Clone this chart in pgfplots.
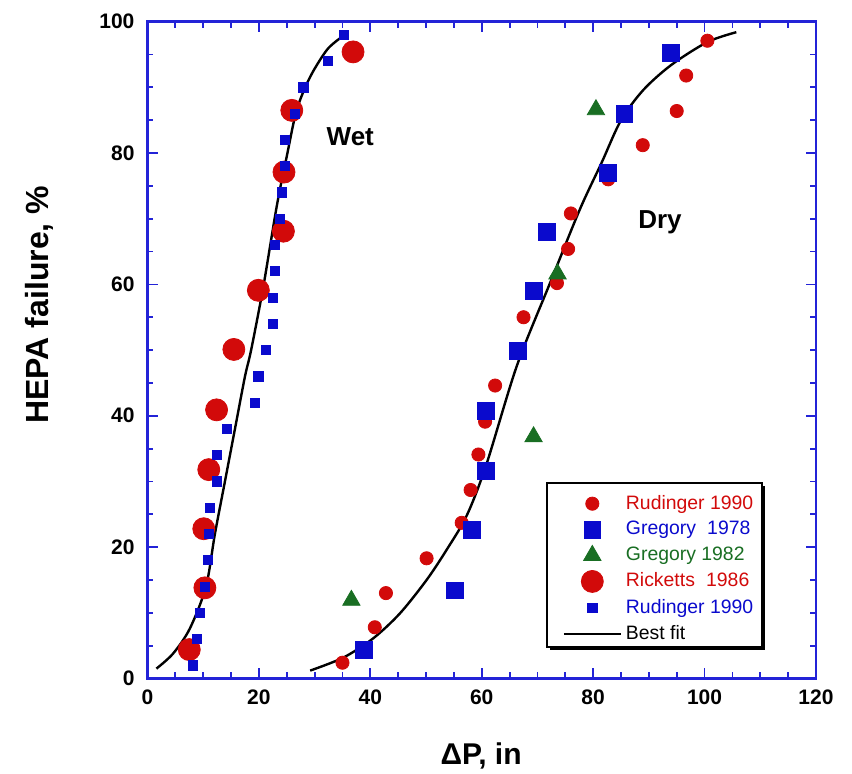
\documentclass[border=0pt]{standalone}
\usepackage{fontspec}
\setmainfont{Liberation Sans}
\usepackage{pgfplots}
\pgfplotsset{compat=1.18}
\usetikzlibrary{shadows}

\definecolor{frameblue}{RGB}{35,35,215}
\definecolor{datared}{RGB}{210,10,10}
\definecolor{datablue}{RGB}{10,10,205}
\definecolor{datagreen}{RGB}{25,110,35}

% wet branch
\pgfplotstableread{
x y
7.5 4.4
10.3 13.8
10.1 22.8
11.0 31.8
12.4 40.9
15.5 50.1
19.9 59.1
24.4 68.1
24.5 77.1
25.9 86.5
36.9 95.4
}\ricketts
\pgfplotstableread{
x y
8.1 2
8.8 6
9.4 10
10.3 14
10.9 18
11.0 22
11.2 26
12.5 30
12.5 34
14.2 38
19.3 42
19.9 46
21.3 50
22.5 54
22.5 58
22.8 62
22.9 66
23.8 70
24.1 74
24.7 78
24.7 82
26.5 86
28.0 90
32.4 94
35.2 98
}\rudwet
% dry branch
\pgfplotstableread{
x y
35.0 2.4
40.8 7.8
42.8 13.0
50.1 18.3
56.4 23.7
58.0 28.7
59.4 34.1
60.6 39.1
62.4 44.6
67.5 55.0
73.5 60.2
75.5 65.4
76.0 70.8
82.7 76.0
88.9 81.2
95.0 86.4
96.7 91.8
100.5 97.1
}\ruddry
\pgfplotstableread{
x y
38.9 4.4
55.2 13.4
58.2 22.6
60.8 31.6
60.8 40.8
66.5 49.9
69.3 59.0
71.7 68.0
82.7 77.0
85.6 86.0
94.0 95.3
}\greg
\pgfplotstableread{
x y
36.6 11.9
69.3 36.8
73.6 61.6
80.5 86.6
}\gregb

\begin{document}
\begin{tikzpicture}
\begin{axis}[
  name=main,
  scale only axis,
  width=334.25pt, height=328.4pt,
  xmin=0, xmax=120, ymin=0, ymax=100,
  xtick={0,20,...,120}, ytick={0,20,...,100},
  minor x tick num=3, minor y tick num=3,
  tick align=inside,
  major tick length=5pt, minor tick length=3pt,
  axis line style={frameblue, line width=1.2pt},
  every tick/.style={frameblue, line width=0.9pt},
  ticklabel style={font=\fontsize{10.5}{12}\selectfont\bfseries},
  /pgf/number format/assume math mode=true,
  xticklabel style={yshift=-2pt},
  yticklabel style={xshift=-3pt},
  xlabel={ΔP, in},
  xlabel style={at={(0.499,-0.118)}, anchor=center, font=\fontsize{15}{18}\selectfont\bfseries},
  ylabel={HEPA failure, \%},
  ylabel style={at={(-0.162,0.569)}, anchor=center, font=\fontsize{16}{19}\selectfont\bfseries},
  clip=false,
  legend image code/.code={\draw[mark repeat=2,mark phase=2,#1] plot coordinates {(0cm,0cm) (0.5cm,0cm) (1cm,0cm)};},
  legend style={at={(0.598,0.298)}, anchor=north west, xshift=4.5pt, yshift=-2pt,
    draw=none, fill=none, font=\fontsize{9.7}{11}\selectfont, row sep=0.6pt},
  legend cell align=left,
]
% legend frame with its shadow
\draw[black, line width=0.8pt, fill=white,
  drop shadow={shadow xshift=1.6pt, shadow yshift=-1.6pt, fill=black, opacity=1}]
  (rel axis cs:0.598,0.048) rectangle (rel axis cs:0.919,0.298);
\addplot[only marks, mark=*, mark size=3.3pt, color=datared] table {\ruddry};
\addlegendentry{\textcolor{datared}{Rudinger 1990}}
\addplot[only marks, mark=square*, mark size=4.2pt, color=datablue] table {\greg};
\addlegendentry{\textcolor{datablue}{Gregory\hspace{0.3em} 1978}}
\addplot[only marks, mark=triangle*, mark size=5pt, color=datagreen] table {\gregb};
\addlegendentry{\textcolor{datagreen}{Gregory 1982}}
\addplot[only marks, mark=*, mark size=5.5pt, color=datared] table {\ricketts};
\addlegendentry{\textcolor{datared}{Ricketts\hspace{0.3em} 1986}}
\addplot[only marks, mark=square*, mark size=2.3pt, color=datablue] table {\rudwet};
\addlegendentry{\textcolor{datablue}{Rudinger 1990}}
\addplot[black, line width=1.2pt, smooth, tension=0.5] coordinates {
  (1.6,1.5) (4.6,3.8) (7.6,7.6) (10.5,14) (12.1,22) (13.9,30) (15.7,38) (17.5,46)
  (18.6,50) (20.8,59.7) (23.2,71.9) (25.0,79.5) (26.8,86.6) (29.2,91.6) (32.2,95.7) (34.6,97.5)
};
\addlegendentry{Best fit}
\addplot[black, line width=1.2pt, smooth, tension=0.5, forget plot] coordinates {
  (29.2,1.2) (35.2,3.2) (40.5,6.1) (45.3,9.9) (50.1,15.0) (53.7,19.6) (57.3,24.8)
  (60.8,32.5) (66.3,47.6) (72.3,60.3) (77.6,71.4) (81.5,78.5) (85.0,85.0) (89.0,89.6)
  (94.0,93.4) (100.5,96.9) (105.7,98.4)
};
\node[font=\fontsize{13}{15}\selectfont\bfseries] at (axis cs:36.4,82.5) {Wet};
\node[font=\fontsize{13}{15}\selectfont\bfseries] at (axis cs:92.0,69.4) {Dry};
\end{axis}
\pgfresetboundingbox
\path ([shift={(-73.75pt,-47.75pt)}]main.south west) rectangle ([shift={(18pt,10.85pt)}]main.north east);
\end{tikzpicture}
\end{document}
